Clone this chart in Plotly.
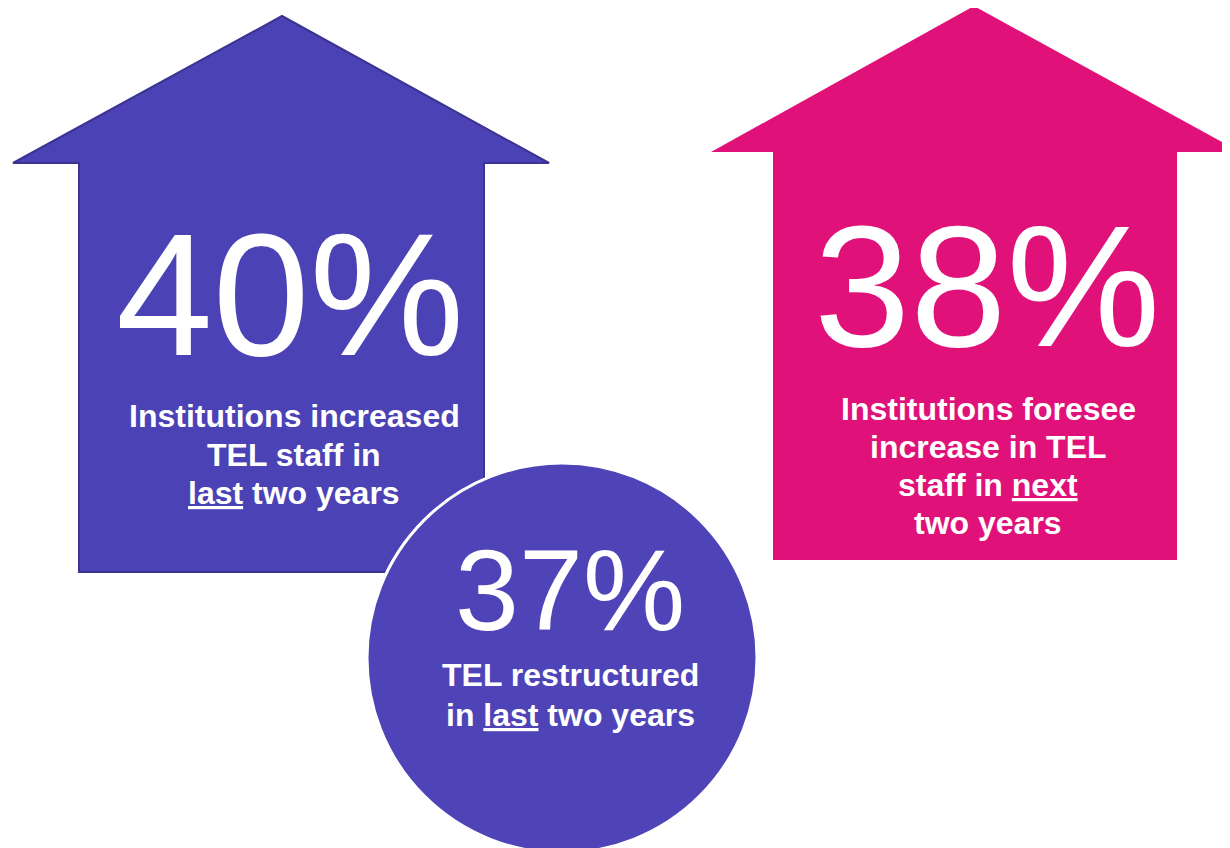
import plotly.graph_objects as go

# ---- data ----
percent_values = [40, 37, 38]
percent_labels = ["40%", "37%", "38%"]
caption_lines = [
    ["Institutions increased", "TEL staff in", "<u>last</u> two years"],
    ["TEL restructured", "in <u>last</u> two years"],
    ["Institutions foresee", "increase in TEL", "staff in <u>next</u>", "two years"],
]
fill_colors = ["#4b42b5", "#4e44b8", "#e0127a"]

W, H = 1230, 848
PAD = 8  # default page body margin
FONT = "Liberation Sans, Arial, sans-serif"


def arrow_path(tip_x, tip_y, wing_y, wing_l, wing_r, shaft_l, shaft_r, bottom):
    pts = [(tip_x, tip_y), (wing_r, wing_y), (shaft_r, wing_y), (shaft_r, bottom),
           (shaft_l, bottom), (shaft_l, wing_y), (wing_l, wing_y)]
    return "M " + " L ".join(f"{x},{y}" for x, y in pts) + " Z"


fig = go.Figure()
fig.add_trace(go.Scatter(x=[PAD, W], y=[PAD, H], mode="markers",
                         marker=dict(opacity=0), hoverinfo="skip", showlegend=False))

shapes = [
    dict(type="path", path=arrow_path(282, 16, 163, 13, 549, 79, 484, 572),
         fillcolor=fill_colors[0], line=dict(color="#3a3391", width=2), layer="below"),
    dict(type="path", path=arrow_path(974, 6, 152, 711, 1240, 773, 1177, 560),
         fillcolor=fill_colors[2], line=dict(color=fill_colors[2], width=0), layer="below"),
    dict(type="circle", x0=367, x1=757, y0=463, y1=853,
         fillcolor=fill_colors[1], line=dict(color="white", width=3), layer="below"),
]

annotations = []
# big numbers
big = [(290, 294, 174), (570, 590, 115), (987, 286, 173)]
for (x, y, size), lab in zip(big, percent_labels):
    annotations.append(dict(x=x, y=y, text=lab, showarrow=False,
                            font=dict(family=FONT, size=size, color="white"),
                            xanchor="center", yanchor="middle"))

cap_pos = [(294, 416, 38.5), (570, 675, 40), (988, 409, 38)]
for (x, y0, dy), lines in zip(cap_pos, caption_lines):
    for i, line in enumerate(lines):
        annotations.append(dict(x=x, y=y0 + i * dy, text=f"<b>{line}</b>", showarrow=False,
                                font=dict(family=FONT, size=32, color="white"),
                                xanchor="center", yanchor="middle"))

fig.update_layout(
    width=W - PAD, height=H - PAD, margin=dict(l=0, r=0, t=0, b=0),
    paper_bgcolor="white", plot_bgcolor="white",
    xaxis=dict(range=[PAD, W], visible=False, fixedrange=True),
    yaxis=dict(range=[H, PAD], visible=False, fixedrange=True),
    shapes=shapes, annotations=annotations, showlegend=False,
)

fig.write_html("out.html")
